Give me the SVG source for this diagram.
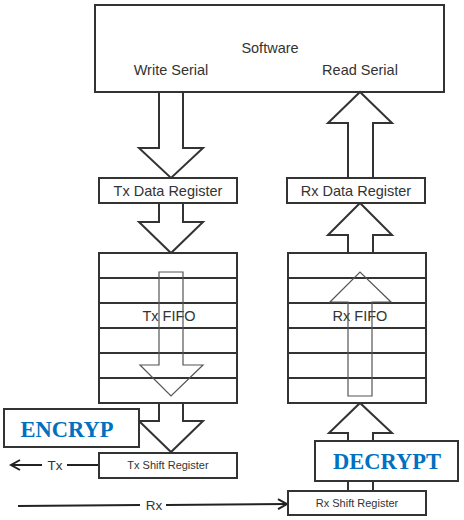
<svg xmlns="http://www.w3.org/2000/svg" width="464" height="520" viewBox="0 0 464 520">
<defs>
<style>
.box{fill:#fff;stroke:#333;stroke-width:2}
.row{stroke:#333;stroke-width:2}
.barrow{fill:#fff;stroke:#333;stroke-width:2;stroke-linejoin:miter}
.inner{fill:none;stroke:#555;stroke-width:1.2}
.t{font-family:"Liberation Sans",Arial,sans-serif;fill:#333;text-anchor:middle}
.big{font-size:14.5px}
.small{font-size:11px}
.blue{font-family:"Liberation Serif","Times New Roman",serif;font-weight:bold;font-size:22.5px;fill:#0070c0;text-anchor:middle}
.line{stroke:#222;stroke-width:2;fill:none}
</style>
<marker id="open" markerWidth="12" markerHeight="12" refX="10" refY="6" orient="auto" markerUnits="userSpaceOnUse">
<path d="M1,1 L10,6 L1,11" fill="none" stroke="#222" stroke-width="2"/>
</marker>
</defs>
<rect width="464" height="520" fill="#fff"/>

<g id="software">
<rect class="box" x="95" y="5" width="349" height="87"/>
<text class="t big" x="270" y="53">Software</text>
<text class="t big" x="171" y="75">Write Serial</text>
<text class="t big" x="360" y="75">Read Serial</text>
</g>

<g id="connectors">
<!-- Tx path block arrows -->
<path class="barrow" d="M159,92 L183,92 L183,148 L203,148 L171,178 L139,148 L159,148 Z"/>
<path class="barrow" d="M159,203 L183,203 L183,222 L203,222 L171,253 L139,222 L159,222 Z"/>
<path class="barrow" d="M159,403 L183,403 L183,421 L203,421 L171,452 L139,421 L159,421 Z"/>
<!-- Rx path block arrows -->
<path class="barrow" d="M348,178 L373,178 L373,123 L392,123 L360,92 L328,123 L348,123 Z"/>
<path class="barrow" d="M348,253 L373,253 L373,235 L392,235 L360,203 L328,235 L348,235 Z"/>
<path class="barrow" d="M348,441 L373,441 L373,433 L392,433 L360,403 L329,433 L348,433 Z"/>
<rect class="barrow" x="348" y="480" width="25" height="11"/>
<!-- Tx line -->
<line class="line" x1="100" y1="465" x2="67" y2="465"/>
<line class="line" x1="42" y1="465" x2="11" y2="465" marker-end="url(#open)"/>
<text class="t" style="font-size:13.5px" x="55" y="470">Tx</text>
<!-- Rx line -->
<line class="line" x1="18" y1="506" x2="140" y2="505"/>
<line class="line" x1="166" y1="505" x2="287" y2="504" marker-end="url(#open)"/>
<text class="t" style="font-size:13.5px" x="154" y="510">Rx</text>
</g>

<g id="tx-data-register">
<rect class="box" x="99" y="178" width="138" height="25"/>
<text class="t big" x="168" y="196">Tx Data Register</text>
</g>

<g id="rx-data-register">
<rect class="box" x="287" y="178" width="138" height="25"/>
<text class="t big" x="356" y="196">Rx Data Register</text>
</g>

<g id="tx-fifo">
<rect class="box" x="99" y="253" width="138" height="150"/>
<line class="row" x1="99" y1="278" x2="237" y2="278"/>
<line class="row" x1="99" y1="303" x2="237" y2="303"/>
<line class="row" x1="99" y1="328" x2="237" y2="328"/>
<line class="row" x1="99" y1="353" x2="237" y2="353"/>
<line class="row" x1="99" y1="378" x2="237" y2="378"/>
<text class="t big" x="169" y="321">Tx FIFO</text>
<path class="inner" d="M159,272 L183,272 L183,365 L203,365 L171,396 L140,365 L159,365 Z"/>
</g>

<g id="rx-fifo">
<rect class="box" x="288" y="253" width="138" height="150"/>
<line class="row" x1="288" y1="278" x2="426" y2="278"/>
<line class="row" x1="288" y1="303" x2="426" y2="303"/>
<line class="row" x1="288" y1="328" x2="426" y2="328"/>
<line class="row" x1="288" y1="353" x2="426" y2="353"/>
<line class="row" x1="288" y1="378" x2="426" y2="378"/>
<text class="t big" x="360" y="321">Rx FIFO</text>
<path class="inner" d="M348,396 L372,396 L372,302 L391,302 L360,272 L330,302 L348,302 Z"/>
</g>

<g id="encryp">
<rect class="box" x="4" y="409" width="135" height="38"/>
<text class="blue" x="67" y="437">ENCRYP</text>
</g>

<g id="tx-shift-register">
<rect class="box" x="99" y="453" width="138" height="25"/>
<text class="t small" x="168" y="469">Tx Shift Register</text>
</g>

<g id="decrypt">
<rect class="box" x="315" y="441" width="143" height="40"/>
<text class="blue" x="387" y="469">DECRYPT</text>
</g>

<g id="rx-shift-register">
<rect class="box" x="288" y="491" width="138" height="24"/>
<text class="t small" x="357" y="507">Rx Shift Register</text>
</g>
</svg>
